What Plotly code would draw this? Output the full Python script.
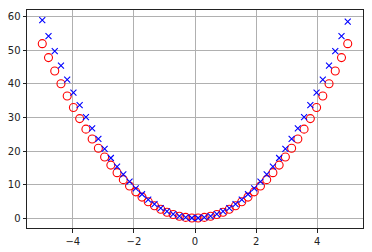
import plotly.graph_objects as go

# x positions (50 evenly spaced points from -5 to 5)
x_left = [-5.000, -4.796, -4.592, -4.388, -4.184, -3.980, -3.776, -3.571, -3.367, -3.163,
          -2.959, -2.755, -2.551, -2.347, -2.143, -1.939, -1.735, -1.531, -1.327, -1.122,
          -0.918, -0.714, -0.510, -0.306, -0.102]
x_right = [0.102, 0.306, 0.510, 0.714, 0.918, 1.122, 1.327, 1.531, 1.735, 1.939,
           2.143, 2.347, 2.551, 2.755, 2.959, 3.163, 3.367, 3.571, 3.776, 3.980,
           4.184, 4.388, 4.592, 4.796, 5.000]

# red circles
circ_left = [52.0, 47.84, 43.86, 40.05, 36.41, 32.95, 29.66, 26.52, 23.58, 20.81,
             18.21, 15.79, 13.54, 11.46, 9.55, 7.82, 6.26, 4.88, 3.66, 2.62,
             1.75, 1.06, 0.54, 0.20, 0.02]
circ_right = [0.02, 0.20, 0.54, 1.06, 1.75, 2.62, 3.66, 4.88, 6.26, 7.82,
              9.55, 11.46, 13.54, 15.79, 18.21, 20.81, 23.58, 26.52, 29.66, 32.95,
              36.41, 40.05, 43.86, 47.84, 52.0]

# blue crosses
cross_left = [59.0, 54.28, 49.76, 45.44, 41.31, 37.38, 33.65, 30.09, 26.75, 23.61,
              20.66, 17.91, 15.36, 13.00, 10.84, 8.87, 7.10, 5.53, 4.16, 2.97,
              1.99, 1.20, 0.61, 0.22, 0.02]
cross_right = [0.02, 0.22, 0.61, 1.20, 1.99, 2.97, 4.16, 5.53, 7.10, 8.87,
               10.84, 13.00, 15.36, 17.91, 20.66, 23.61, 26.75, 30.09, 33.65, 37.38,
               41.31, 45.44, 49.76, 54.28, 58.6]

x = x_left + x_right
circles = circ_left + circ_right
crosses = cross_left + cross_right

x_ticks = [-4, -2, 0, 2, 4]
y_ticks = [0, 10, 20, 30, 40, 50, 60]

fig = go.Figure()
fig.add_trace(go.Scatter(
    x=x, y=circles, mode='markers',
    marker=dict(symbol='circle-open', size=8, color='#ff0000', line=dict(width=1.1))
))
fig.add_trace(go.Scatter(
    x=x, y=crosses, mode='markers',
    marker=dict(symbol='x-thin-open', size=6, color='#0000ff', line=dict(width=1.1, color='#0000ff'))
))

axis_style = dict(
    showgrid=True, gridcolor='#b0b0b0', gridwidth=1,
    showline=True, linecolor='#222222', linewidth=1, mirror=True,
    ticks='outside', ticklen=3.5, tickcolor='#222222', tickwidth=1,
    zeroline=False, automargin=False,
    tickfont=dict(family='DejaVu Sans', size=10, color='#222222'),
)

fig.update_layout(
    width=372, height=252,
    margin=dict(l=27, r=9, t=10, b=24),
    paper_bgcolor='white', plot_bgcolor='white',
    showlegend=False,
    xaxis=dict(range=[-5.5, 5.5], tickvals=x_ticks, **axis_style),
    yaxis=dict(range=[-2.96, 62.04], tickvals=y_ticks, **axis_style),
)

# drop the browser's default body margin so the figure sits at the page corner
fig.write_html("out.html", config={'displayModeBar': False},
               post_script="document.body.style.margin='0';")
